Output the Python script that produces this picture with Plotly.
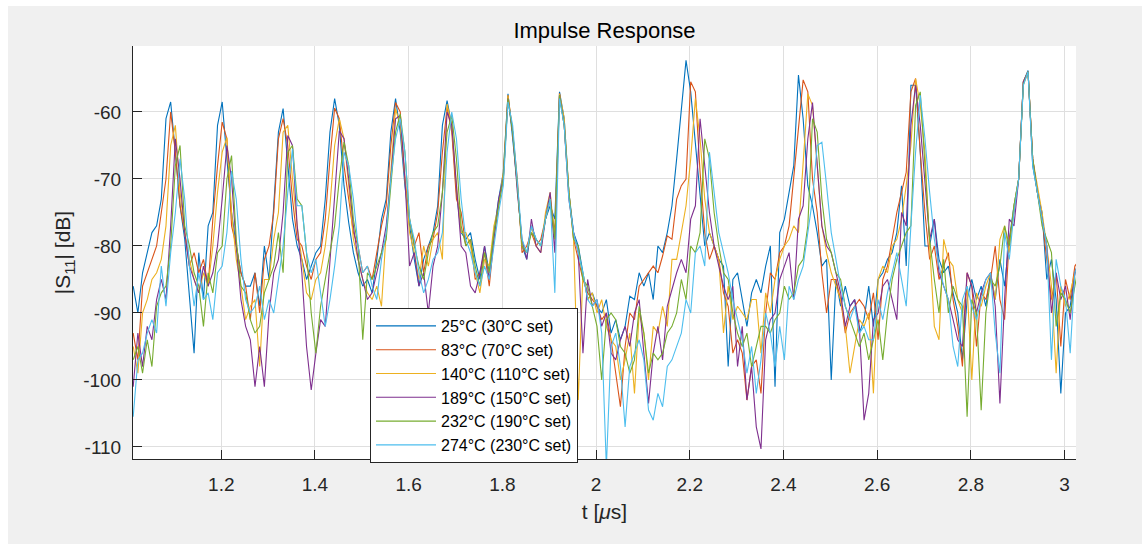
import numpy as np
import plotly.graph_objects as go

# sample times [us]
t_start = 1.012
t_step = 0.01
n_samples = 203
t_us = np.round(t_start + t_step * np.arange(n_samples), 4)

s11_25C = [
    -86, -90, -84, -81, -78, -77, -73, -61, -58.5, -66,
    -74, -79, -87, -96, -81, -88, -77, -75, -62, -58.5,
    -67, -75, -80, -84, -86, -86, -84, -89, -80, -85,
    -74, -63, -59.5, -68, -76, -80, -82, -85, -83, -81,
    -80, -73, -63, -58, -62, -71, -76.5, -81, -84, -86,
    -85, -87, -82, -76, -73, -63, -58, -63, -71, -77,
    -82, -86, -82, -80, -78, -74, -62, -58.3, -62, -72,
    -78, -79, -78, -82, -85, -80, -84, -78, -73, -69,
    -57.3, -64, -71, -80, -82, -77, -79, -80, -76, -74,
    -76, -57, -61, -72, -78, -80, -84, -88, -87, -89,
    -90, -88, -93, -91, -94, -92, -87.5, -88, -84, -86,
    -84, -88, -80, -81, -78, -74, -67, -60, -52.3, -57,
    -65, -73, -80, -78, -80, -82, -83, -98, -85, -84,
    -88, -92, -87, -85, -87, -83, -80, -101, -78, -76,
    -72, -68, -54.5, -61, -71, -74, -78, -83, -82, -100,
    -85, -89, -86, -89, -88, -93, -91, -86, -92, -85,
    -84, -82, -81, -78, -71, -83, -56, -56, -66, -80,
    -80, -76, -82, -84, -83, -87, -90, -97, -88, -85,
    -88, -86, -89, -84, -88, -82, -86, -79, -74, -70,
    -55.5, -53.8, -68, -72, -75, -85, -82, -88, -102, -90,
    -89, -84, -82,
]

s11_83C = [
    -93, -97, -86, -84, -82, -80, -75, -70, -60, -66,
    -74, -78, -83, -81, -84, -82, -86, -76, -68, -61.5,
    -64, -77, -80, -84, -86, -91, -84, -90, -82, -80,
    -75, -64, -61, -65, -73, -79, -80, -83, -85, -82,
    -81, -76, -67, -59.4, -61, -68, -73, -78, -80, -84,
    -83, -85, -81, -77, -74, -65, -58.6, -60, -70, -76,
    -80, -78, -84, -80, -79, -75, -66, -59.3, -63, -73,
    -75, -80, -79, -85, -84, -81, -86, -79, -74, -70,
    -57.5, -63, -70, -81, -80, -78, -80, -79, -76, -73,
    -78, -57.2, -62, -72, -79, -82, -85, -87, -88, -89,
    -91, -90, -94, -99, -104, -95, -90, -91, -86, -85,
    -84, -83, -84, -81.5, -78.5, -79, -73, -71, -70, -55.5,
    -57, -69, -78, -82, -80, -82, -87, -89, -96, -94,
    -96, -103, -98, -97, -102, -90, -84, -85, -81, -80,
    -77, -70, -63, -55.2, -57, -70, -75, -84, -90, -85,
    -85, -88, -93, -90, -89, -88, -89, -91, -87, -94,
    -85, -83, -79, -75, -72, -69, -57, -55, -66, -75,
    -82, -80, -85, -83, -81, -88, -92, -98, -84, -86,
    -95, -87, -88, -85, -80, -88, -91, -79, -75, -70,
    -55.5, -54, -67, -72, -76, -82, -88, -84, -95, -85,
    -88, -83, -82,
]

s11_140C = [
    -95, -99, -90, -88, -85, -84, -82, -77, -65, -62,
    -72, -78, -82, -85, -87, -84, -86, -80, -72, -66,
    -63.8, -75, -82, -86, -91, -89, -88, -98, -85, -85,
    -79, -75, -63, -62, -70, -77, -82, -87, -88, -85,
    -84, -80, -74, -65, -61, -64, -71, -79, -82, -85,
    -87, -88, -86, -89, -78, -68, -59.5, -62, -70, -78,
    -81, -85, -80, -83, -79, -78, -82, -58.8, -62, -71,
    -78, -78, -80, -84, -87, -82, -83, -77, -74, -69,
    -57.5, -63, -71, -80, -81, -77, -80, -81, -75, -72,
    -79, -57.3, -61, -72, -79, -103, -84, -88, -87, -90,
    -88, -92, -94, -95, -100, -97, -93, -102, -90, -93,
    -100, -92, -93, -89, -92, -82, -82, -78, -74, -67,
    -58, -64, -73, -78, -80, -82, -93, -86, -91, -89,
    -90, -91, -88, -88, -96, -87, -90, -85, -82, -80,
    -79, -77, -78, -68, -57.3, -59, -68, -77, -81, -84,
    -86, -88, -92, -99, -95, -91, -92, -90, -102, -85,
    -83, -84, -80, -79, -76, -71, -65, -55, -59, -66,
    -80, -92, -94, -79, -82, -83, -88, -90, -86, -100,
    -87, -89, -86, -84, -88, -79, -77, -81, -74, -70,
    -55.5, -54, -67, -71, -75, -80, -86, -99, -86, -89,
    -87, -84, -82,
]

s11_189C = [
    -101, -93, -98, -92, -94, -88, -85, -88, -77, -64,
    -70, -78, -83, -85, -87, -83, -86, -84, -80, -73,
    -65, -70, -80, -88, -92, -94, -101, -95, -101, -90,
    -84, -82, -75, -63.5, -65, -77, -84, -95, -101.5, -96,
    -91, -92, -82, -72, -62.8, -64, -70, -77, -82, -85,
    -88, -87, -84, -81, -77, -70, -61, -60.5, -70, -83,
    -81, -86, -84, -90, -83, -80, -72, -60, -62, -71,
    -80, -81, -86, -87, -84, -80, -85, -79, -73, -70,
    -58, -63, -72, -79, -82, -76, -80, -81, -76, -72,
    -81, -57.5, -62, -73, -78, -81, -96, -85, -89, -88,
    -92, -90, -96, -97, -94, -92, -95, -90, -88, -96,
    -103.5, -96, -92, -97, -89, -86.5, -84, -82, -84, -76,
    -74, -61, -68, -75, -80, -83, -86, -88, -86, -98,
    -92, -103, -98, -107, -110.3, -94, -91, -90, -85, -83,
    -81, -88, -76, -74, -64, -58.6, -68, -77, -80, -81,
    -84, -87, -92, -89, -88, -92, -106, -102, -91, -90,
    -86, -85, -88, -91, -75, -77, -62, -56, -62, -70,
    -79, -76, -84, -86, -88, -91, -94, -95, -84, -86,
    -90, -87, -85, -84, -89, -103.5, -88, -76, -77, -70,
    -55.5, -54, -67, -72, -76, -80, -90, -84, -88, -86,
    -91, -84, -82,
]

s11_232C = [
    -97, -95, -99, -94, -98, -89, -87, -86, -80, -68,
    -65, -77, -80, -84, -86, -92, -84, -87, -81, -80,
    -70, -66.5, -79, -86, -87, -91, -93, -92, -87, -85,
    -83, -78, -84, -66, -65, -73, -74, -81, -90, -96,
    -89, -85, -81, -77, -70, -64.5, -68, -76, -80, -94,
    -84, -85, -83, -81, -79, -71, -63, -60.3, -66, -76,
    -80, -83, -85, -81, -78, -77, -72, -63, -60.5, -67,
    -77, -80, -79, -83, -86, -81, -84, -78, -74, -70,
    -58, -63, -71, -80, -81, -78, -79, -80, -76, -73,
    -79, -57.5, -62, -72, -79, -80, -85, -86, -89, -92,
    -100, -91, -90, -91, -95, -96, -99, -97, -89, -93,
    -99, -96, -97, -96, -93, -92, -90, -85, -88, -80,
    -81, -78, -64, -67, -75, -80, -84, -85, -90, -93,
    -95, -93, -98, -95, -92, -92, -93, -91, -90, -86,
    -88, -87, -83, -82, -77, -61, -63, -73, -79, -81,
    -84, -85, -89, -91, -93, -95, -93, -97, -94, -91,
    -97, -90, -85, -82, -80, -78, -77, -59, -57, -68,
    -79, -85, -90, -82, -90, -86, -88, -89, -105.5, -88,
    -90, -104.5, -90, -85, -86, -83, -77, -80, -74, -70,
    -56, -54, -67, -72, -77, -79, -81, -92, -87, -88,
    -90, -86, -82,
]

s11_274C = [
    -105.5, -97, -96, -93, -91, -93, -83, -89, -81, -75,
    -67, -73, -83, -89, -84, -88, -87, -91, -84, -83,
    -78, -68.8, -73, -82, -88, -90, -89, -86, -91, -88,
    -90, -85, -80, -72, -65.5, -74, -74, -81, -84, -82,
    -87, -92, -88, -83, -77, -66, -68, -73, -80, -84,
    -83, -86, -88, -82, -78, -70, -64, -61, -66, -76,
    -79, -84, -87, -85, -82, -81, -78, -66, -60, -64,
    -73, -79, -81, -84, -86, -83, -85, -80, -75, -71,
    -58.5, -62, -70, -79, -81, -77, -79, -80, -76, -73,
    -87, -58, -62, -73, -78, -81, -84, -88, -89, -88,
    -93, -113, -95, -93, -98, -107, -98, -96, -94, -97,
    -104.5, -106, -102, -104, -98, -97, -95, -93, -88, -90,
    -81, -80, -83, -66, -72, -78, -81, -84, -88, -91,
    -94, -99, -95, -102, -97, -90, -93, -98, -92, -97,
    -86, -88, -85, -83, -78, -73, -65, -64.5, -71, -78,
    -82, -86, -89, -91, -89, -93, -92, -94, -94, -88,
    -91, -87, -84, -81, -85, -89, -77, -66, -57.5, -64,
    -72, -79, -83, -86, -88, -95, -98, -88, -86, -89,
    -91, -88, -85, -84, -93, -99, -78, -82, -75, -70,
    -56, -54, -68, -72, -76, -80, -97, -82, -86, -88,
    -96, -84, -82,
]

series_values = [s11_25C, s11_83C, s11_140C, s11_189C, s11_232C, s11_274C]
series_labels = [
    "25°C (30°C set)",
    "83°C (70°C set)",
    "140°C (110°C set)",
    "189°C (150°C set)",
    "232°C (190°C set)",
    "274°C (230°C set)",
]
series_colors = ["#0072BD", "#D95319", "#EDB120", "#7E2F8E", "#77AC30", "#4DBEEE"]

x_ticks = [1.2, 1.4, 1.6, 1.8, 2.0, 2.2, 2.4, 2.6, 2.8, 3.0]
x_tick_labels = ["1.2", "1.4", "1.6", "1.8", "2", "2.2", "2.4", "2.6", "2.8", "3"]
y_ticks = [-110, -100, -90, -80, -70, -60]
y_tick_labels = ["-110", "-100", "-90", "-80", "-70", "-60"]

for v in series_values:
    assert len(v) == n_samples, len(v)

fig = go.Figure()
for vals, name, col in zip(series_values, series_labels, series_colors):
    fig.add_trace(go.Scatter(x=t_us, y=vals, mode="lines", name=name,
                             line=dict(color=col, width=1.1)))

W, H = 1142, 544
ml, mr, mt, mb = 133, 66, 46, 85
pw, ph = W - ml - mr, H - mt - mb

def px_x(px):
    return (px - ml) / pw

def px_y(py):
    return (H - mb - py) / ph

axis_col = "#262626"
fig.update_layout(
    width=W, height=H, autosize=False,
    margin=dict(l=ml, r=mr, t=mt, b=mb, pad=0),
    paper_bgcolor="#F0F0F0", plot_bgcolor="white",
    font=dict(family="Liberation Sans, Arial, sans-serif", color=axis_col, size=19),
    title=dict(text="Impulse Response", x=0.5, xref="paper", xanchor="center",
               y=1 - 30 / H, yref="container", yanchor="middle",
               font=dict(size=22, color="#000000")),
    legend=dict(x=px_x(370), y=px_y(308), xanchor="left", yanchor="top",
                bgcolor="white", bordercolor=axis_col, borderwidth=1,
                itemwidth=60, tracegroupgap=0,
                font=dict(size=16, color="#000000")),
    xaxis=dict(range=[1.0116, 3.0244], tickvals=x_ticks, ticktext=x_tick_labels,
               ticks="inside", ticklen=9, tickcolor=axis_col, tickwidth=1,
               showline=True, linecolor=axis_col, linewidth=1,
               showgrid=True, gridcolor="#DFDFDF", gridwidth=1, zeroline=False,
               ticklabelstandoff=8,
               title=dict(text="t [<i>μ</i>s]", font=dict(size=21), standoff=10)),
    yaxis=dict(range=[-111.8, -50.15], tickvals=y_ticks, ticktext=y_tick_labels,
               ticks="inside", ticklen=9, tickcolor=axis_col, tickwidth=1,
               showline=True, linecolor=axis_col, linewidth=1,
               showgrid=True, gridcolor="#DFDFDF", gridwidth=1, zeroline=False,
               ticklabelstandoff=7,
               title=dict(text="|S<sub>11</sub>| [dB]", font=dict(size=21), standoff=6)),
    shapes=[
        dict(type="rect", xref="paper", yref="paper", x0=px_x(-2), x1=px_x(W + 2),
             y0=px_y(6), y1=px_y(-2), fillcolor="white", line=dict(width=0), layer="above"),
        dict(type="rect", xref="paper", yref="paper", x0=px_x(-2), x1=px_x(8),
             y0=px_y(H + 2), y1=px_y(-2), fillcolor="white", line=dict(width=0), layer="above"),
    ],
)

fig.write_html("out.html")
